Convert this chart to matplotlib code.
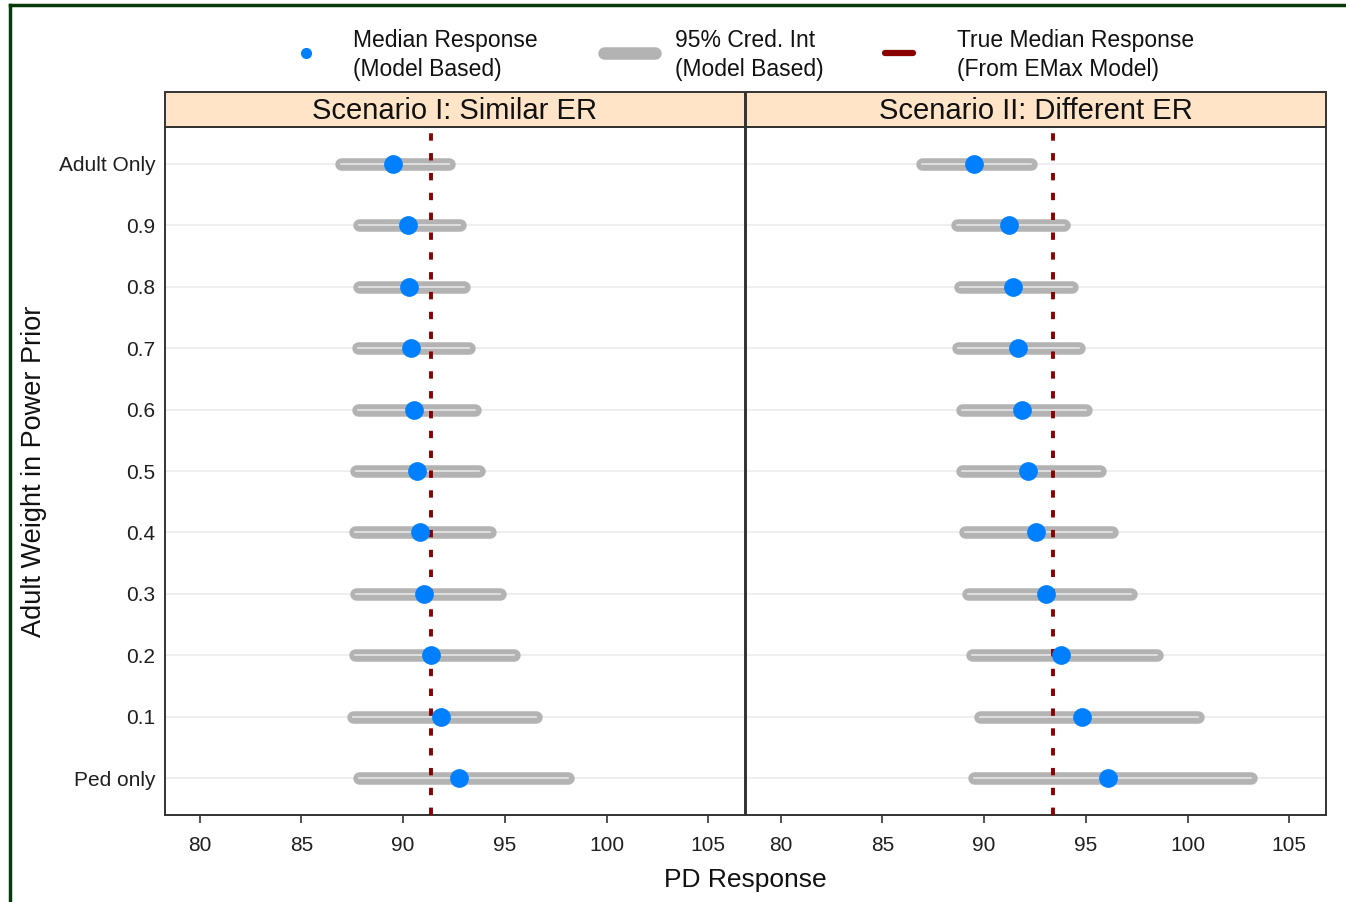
import numpy as np
import matplotlib
matplotlib.use("Agg")
import matplotlib.pyplot as plt
from matplotlib.lines import Line2D
from matplotlib.patches import Rectangle

plt.rcParams['font.family'] = ['Liberation Sans', 'DejaVu Sans']

# ---- data ----
categories = ["Adult Only", "0.9", "0.8", "0.7", "0.6", "0.5",
              "0.4", "0.3", "0.2", "0.1", "Ped only"]
scenarios = ["Scenario I: Similar ER", "Scenario II: Different ER"]

# Scenario I
med_1 = [89.49, 90.24, 90.29, 90.38, 90.53, 90.68, 90.81, 91.05, 91.35, 91.84, 92.73]
lo_1 = [86.97, 87.84, 87.84, 87.77, 87.77, 87.69, 87.62, 87.69, 87.62, 87.54, 87.84]
hi_1 = [92.26, 92.78, 93.00, 93.23, 93.52, 93.74, 94.26, 94.78, 95.44, 96.55, 98.10]
true_1 = 91.35

# Scenario II
med_2 = [89.51, 91.21, 91.44, 91.66, 91.88, 92.18, 92.54, 93.05, 93.79, 94.82, 96.08]
lo_2 = [86.97, 88.67, 88.82, 88.74, 88.89, 88.89, 89.04, 89.19, 89.41, 89.78, 89.48]
hi_2 = [92.30, 93.93, 94.30, 94.67, 95.03, 95.70, 96.28, 97.23, 98.51, 100.49, 103.11]
true_2 = 93.38

xticks = [80, 85, 90, 95, 100, 105]

W, H = 1346, 902
fig = plt.figure(figsize=(W / 100, H / 100), dpi=100)

def fx(px):
    return px / W

def fy(py):
    return 1 - py / H

BLUE = "#0080FF"
GREY = "#B3B3B3"
DRED = "#8B0000"
EDGE = "#333333"
TXT = "#1f1f1f"

panels = [(165, med_1, lo_1, hi_1, true_1), (746, med_2, lo_2, hi_2, true_2)]
ypos = np.arange(len(categories))

for k, (x0, med, lo, hi, tru) in enumerate(panels):
    ax = fig.add_axes([fx(x0), fy(815), 580 / W, (815 - 127) / H])
    # grid
    for y in ypos:
        ax.axhline(y, color="#EBEBEB", lw=1.2, zorder=1)
    # credible intervals
    for y, a, b in zip(ypos, lo, hi):
        ax.plot([a, b], [y, y], color=GREY, lw=9, solid_capstyle="round", zorder=2)
        ax.plot([a, b], [y, y], color="#E6E6E6", lw=1.2, zorder=2.2)
    ax.axvline(tru, color=DRED, lw=2.8, linestyle=(0, (1.9, 3.2)), zorder=3)
    ax.plot(med, ypos, "o", color=BLUE, ms=13.5, mec="none", zorder=4)

    ax.set_xlim(78.3, 106.8)
    ax.set_ylim(len(categories) - 1 + 0.6, -0.6)
    ax.set_xticks(xticks)
    ax.set_xticklabels([str(t) for t in xticks])
    ax.set_yticks(ypos)
    if k == 0:
        ax.set_yticklabels(categories)
    else:
        ax.set_yticklabels([])
    ax.tick_params(axis="y", length=0, pad=7, labelsize=15, labelcolor=TXT)
    ax.tick_params(axis="x", length=6, width=1.2, color=EDGE, pad=9,
                   labelsize=15, labelcolor=TXT)
    for s in ax.spines.values():
        s.set_color(EDGE)
        s.set_linewidth(1.4)

    # strip
    fig.add_artist(Rectangle((fx(x0), fy(127)), 580 / W, 35 / H,
                             transform=fig.transFigure, facecolor="#FFE4C8",
                             edgecolor=EDGE, lw=1.4))
    fig.text(fx(x0 + 290), fy(111), scenarios[k], ha="center", va="center",
             fontsize=21, color="#111111")

fig.text(fx(745), fy(880), "PD Response", ha="center", va="center",
         fontsize=19, color="#111111")
fig.text(fx(34), fy(471), "Adult Weight in Power Prior", ha="center", va="center",
         rotation=90, fontsize=19.5, color="#111111")

# legend
fig.add_artist(Line2D([fx(306)], [fy(53)], marker="o", color=BLUE, ms=8,
                      mec="none", transform=fig.transFigure))
fig.add_artist(Line2D([fx(604), fx(655)], [fy(53), fy(53)], color=GREY, lw=9,
                      solid_capstyle="round", transform=fig.transFigure))
fig.add_artist(Line2D([fx(885), fx(913)], [fy(53), fy(53)], color=DRED, lw=4.5,
                      solid_capstyle="round", transform=fig.transFigure))
leg_text = [(353, "Median Response\n(Model Based)"),
            (675, "95% Cred. Int\n(Model Based)"),
            (957, "True Median Response\n(From EMax Model)")]
for x, t in leg_text:
    fig.text(fx(x), fy(55), t, ha="left", va="center", fontsize=16.5,
             color="#111111", linespacing=1.38)

# outer frame (top and left edges visible in the screenshot)
fig.add_artist(Line2D([fx(10), 1], [fy(5), fy(5)], color="#0A3A0A", lw=2.5,
                      transform=fig.transFigure))
fig.add_artist(Line2D([fx(10), fx(10)], [fy(5), 0], color="#0A3A0A", lw=2.5,
                      transform=fig.transFigure))

fig.savefig("out.png", dpi=100)
